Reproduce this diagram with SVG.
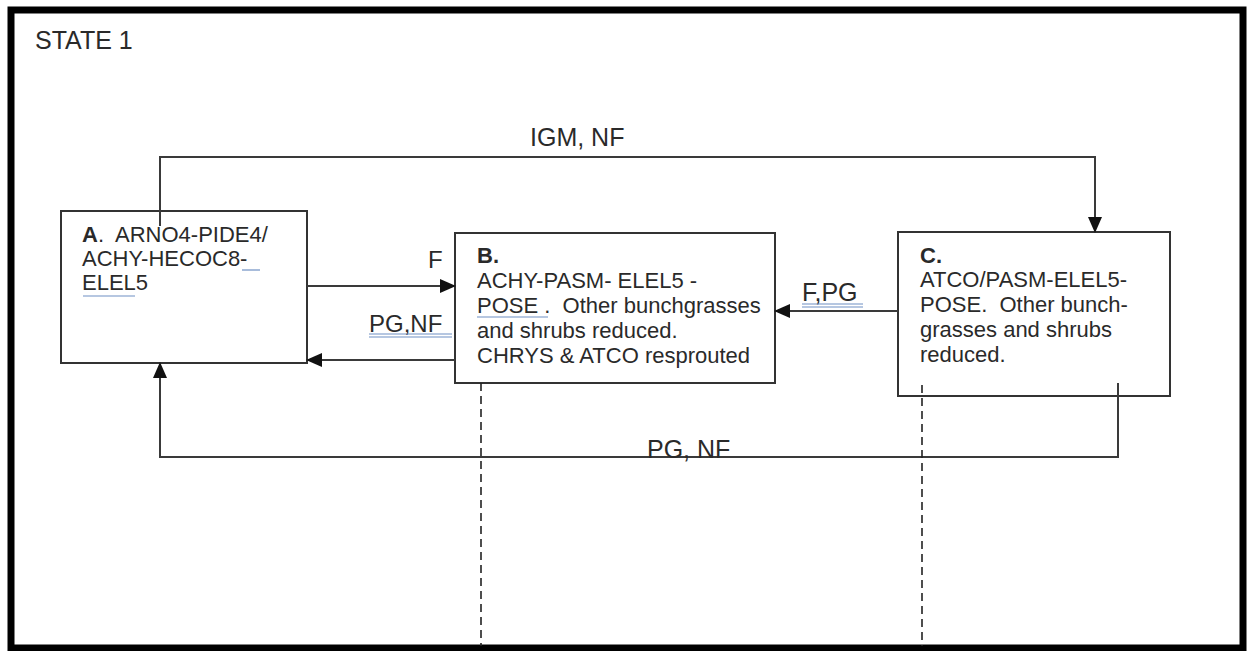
<svg xmlns="http://www.w3.org/2000/svg" width="1248" height="651" viewBox="0 0 1248 651">
<style>
.t{font-family:"Liberation Sans",Arial,sans-serif;fill:#2a2a2a}
.bx{fill:#fff;stroke:#333;stroke-width:2}
.cn{fill:none;stroke:#3a3a3a;stroke-width:2}
.ds{fill:none;stroke:#222;stroke-width:1.6;stroke-dasharray:8 5}
.ul{stroke:#6f8fc4;stroke-width:1.2}
</style>
<defs>
<marker id="ah" markerWidth="16" markerHeight="14" refX="15" refY="7" orient="auto" markerUnits="userSpaceOnUse">
<path d="M0,0 L16,7 L0,14 Z" fill="#111"/>
</marker>
</defs>
<rect x="0" y="0" width="1248" height="651" fill="#fff"/>
<rect x="11" y="10" width="1232" height="638" fill="none" stroke="#000" stroke-width="7"/>
<text class="t" x="35" y="49" font-size="25">STATE 1</text>

<g id="nodeA">
<rect class="bx" x="61" y="211" width="246" height="152"/>
<text class="t" x="82" y="242" font-size="22" xml:space="preserve"><tspan font-weight="bold">A</tspan>.  ARNO4-PIDE4/</text>
<text class="t" x="82" y="266" font-size="22">ACHY-HECOC8-</text>
<text class="t" x="82" y="290" font-size="22">ELEL5</text>
<line class="ul" x1="242" y1="270" x2="260" y2="270"/>
<line class="ul" x1="83" y1="296" x2="135" y2="296"/>
</g>

<g id="nodeB">
<rect class="bx" x="455" y="233" width="320" height="150"/>
<text class="t" x="477" y="263" font-size="22" font-weight="bold">B.</text>
<text class="t" x="477" y="288" font-size="22">ACHY-PASM- ELEL5 -</text>
<text class="t" x="477" y="313" font-size="22" xml:space="preserve">POSE .  Other bunchgrasses</text>
<text class="t" x="477" y="338" font-size="22">and shrubs reduced.</text>
<text class="t" x="477" y="363" font-size="22">CHRYS &amp; ATCO resprouted</text>
<line class="ul" x1="477" y1="317" x2="548" y2="317"/>
</g>

<g id="nodeC">
<rect class="bx" x="898" y="232" width="272" height="164"/>
<text class="t" x="920" y="263" font-size="22" font-weight="bold">C.</text>
<text class="t" x="920" y="287" font-size="22">ATCO/PASM-ELEL5-</text>
<text class="t" x="920" y="312" font-size="22" xml:space="preserve">POSE.  Other bunch-</text>
<text class="t" x="920" y="337" font-size="22">grasses and shrubs</text>
<text class="t" x="920" y="362" font-size="22">reduced.</text>
</g>

<g id="connectors">
<path class="cn" d="M160,226 V157 H1095 V232" marker-end="url(#ah)"/>
<text class="t" x="530" y="146" font-size="25">IGM, NF</text>

<path class="cn" d="M307,286 H455" marker-end="url(#ah)"/>
<text class="t" x="428" y="268" font-size="24">F</text>

<path class="cn" d="M455,360 H307" marker-end="url(#ah)"/>
<text class="t" x="369" y="332" font-size="24">PG,NF</text>
<line class="ul" x1="369" y1="334" x2="452" y2="334"/>
<line class="ul" x1="369" y1="337" x2="452" y2="337"/>

<path class="cn" d="M898,311 H775" marker-end="url(#ah)"/>
<text class="t" x="802" y="301" font-size="25">F,PG</text>
<line class="ul" x1="802" y1="304" x2="863" y2="304"/>
<line class="ul" x1="802" y1="307" x2="863" y2="307"/>

<path class="cn" d="M1118,383 V457 H160 V363" marker-end="url(#ah)"/>
<text class="t" x="647" y="458" font-size="25">PG, NF</text>

<line class="ds" x1="481" y1="383" x2="481" y2="646"/>
<line class="ds" x1="922" y1="385" x2="922" y2="646"/>
</g>
</svg>
